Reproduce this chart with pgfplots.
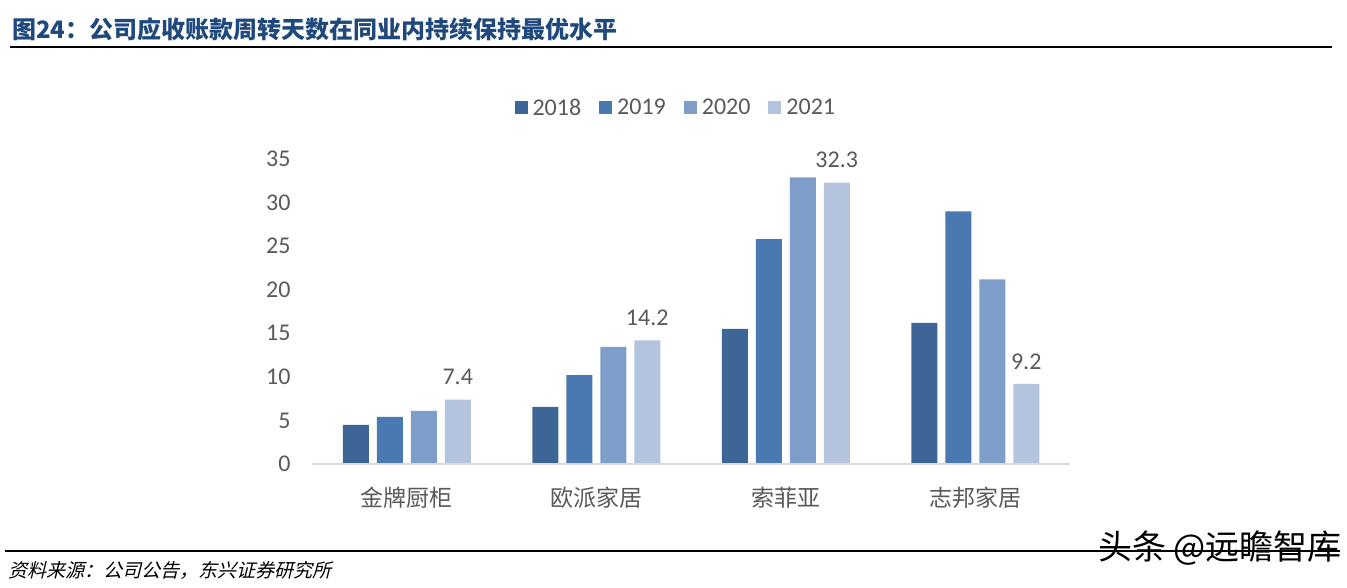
\documentclass[border=0pt]{standalone}
\usepackage{pgfplots}
\pgfplotsset{compat=1.18}
\usepackage{fontspec}
\setmainfont{Carlito}
\newfontfamily\cjk{Noto Sans CJK SC}
\newfontfamily\cjki[FakeSlant=0.25]{Noto Sans CJK SC}
\definecolor{cA}{HTML}{3D6596}
\definecolor{cB}{HTML}{4A78B0}
\definecolor{cC}{HTML}{7F9DC9}
\definecolor{cD}{HTML}{B4C3DE}
\definecolor{titleblue}{HTML}{1F497D}
\definecolor{txt}{HTML}{595959}
\begin{document}
\begin{tikzpicture}
\path[use as bounding box] (0pt,0pt) rectangle (1347pt,587pt);
\node[anchor=west, inner sep=0pt, text=titleblue] at (12pt,558pt) {\cjk\bfseries\fontsize{24}{24}\selectfont 图24：公司应收账款周转天数在同业内持续保持最优水平};
\draw[line width=2.5pt] (10pt,540pt) -- (1332pt,540pt);
\draw[line width=2.2pt] (5pt,36pt) -- (1340pt,36pt);
\node[anchor=west, inner sep=0pt] at (8pt,17pt) {\cjki\fontsize{19}{19}\selectfont 资料来源：公司公告，东兴证券研究所};
\node[anchor=east, inner sep=0pt] at (1342pt,39pt) {\cjk\fontsize{34}{34}\selectfont 头条 @远瞻智库};
\begin{axis}[
  at={(312pt,123pt)}, anchor=south west, scale only axis,
  width=758pt, height=305pt,
  xmin=-0.5, xmax=3.5, ymin=0, ymax=35,
  ybar=8pt, bar width=26pt,
  axis line style={draw=none},
  ytick={0,5,...,35},
  xtick={0,1,2,3},
  xticklabels={金牌厨柜,欧派家居,索菲亚,志邦家居},
  tick style={draw=none},
  /pgf/number format/assume math mode=true,
  yticklabel style={font=\fontsize{24}{24}\selectfont, text=txt, xshift=-18pt},
  xticklabel style={font=\cjk\fontsize{23}{23}\selectfont, text=txt, yshift=-15pt},
  legend columns=4,
  legend style={at={(0.48,1.168)}, anchor=center, draw=none, fill=none,
    font=\fontsize{24}{24}\selectfont, text=txt,
    /tikz/every odd column/.append style={column sep=3pt},
    /tikz/every even column/.append style={column sep=16pt}},
  legend image code/.code={\fill[#1] (0pt,-6.5pt) rectangle (13pt,6.5pt);},
  clip=false,
]
\addplot[fill=cA, draw=none] coordinates {(0,4.5) (1,6.55) (2,15.5) (3,16.2)};
\addplot[fill=cB, draw=none] coordinates {(0,5.4) (1,10.2) (2,25.8) (3,29.0)};
\addplot[fill=cC, draw=none] coordinates {(0,6.1) (1,13.45) (2,32.9) (3,21.2)};
\addplot[fill=cD, draw=none, nodes near coords,
  every node near coord/.append style={font=\fontsize{24}{24}\selectfont, text=txt, yshift=11pt},
  /pgf/number format/.cd, fixed, fixed zerofill, precision=1] coordinates {(0,7.4) (1,14.2) (2,32.3) (3,9.2)};
\legend{2018,2019,2020,2021}
\draw[draw=black!15, line width=1.6pt] (rel axis cs:0,0) -- (rel axis cs:1,0);
\end{axis}
\end{tikzpicture}
\end{document}
